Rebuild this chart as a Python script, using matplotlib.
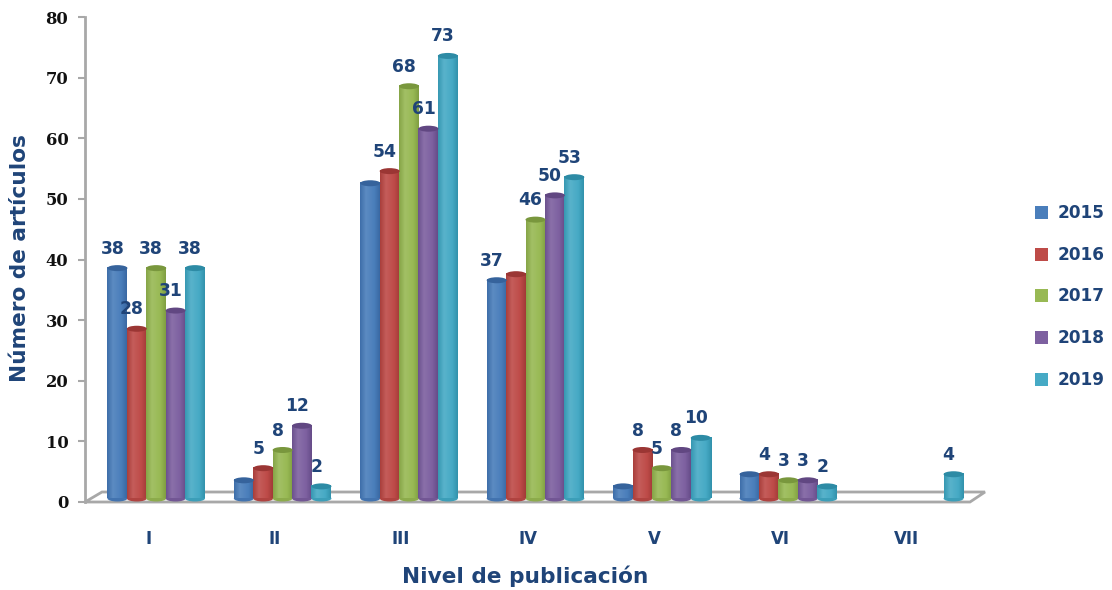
import numpy as np
import matplotlib
matplotlib.use('Agg')
import matplotlib.pyplot as plt
from matplotlib.patches import Ellipse, Polygon, Rectangle
from matplotlib.colors import LinearSegmentedColormap, to_rgb

plt.rcParams['font.family'] = ['DejaVu Sans']

niveles = ['I', 'II', 'III', 'IV', 'V', 'VI', 'VII']
years = ['2015', '2016', '2017', '2018', '2019']

# alturas
v2015 = [38, 3, 52, 36, 2, 4, 0]
v2016 = [28, 5, 54, 37, 8, 4, 0]
v2017 = [38, 8, 68, 46, 5, 3, 0]
v2018 = [31, 12, 61, 50, 8, 3, 0]
v2019 = [38, 2, 73, 53, 10, 2, 4]
series = [v2015, v2016, v2017, v2018, v2019]

# etiquetas que aparecen en la figura (None = sin etiqueta)
l2015 = [38, None, None, 37, None, None, None]
l2016 = [28, 5, 54, None, 8, 4, None]
l2017 = [38, 8, 68, 46, 5, 3, None]
l2018 = [31, 12, 61, 50, 8, 3, None]
l2019 = [38, 2, 73, 53, 10, 2, 4]
labels = [l2015, l2016, l2017, l2018, l2019]

colors = ['#4a7ebb', '#be4b48', '#98b954', '#7d60a0', '#46aac5']
darks = ['#2f5a92', '#8f2f2d', '#6f8c35', '#573f78', '#24819b']
navy = '#1f4478'

W, H = 1112, 590
fig = plt.figure(figsize=(W / 100, H / 100), dpi=100)
ax = fig.add_axes([85 / W, (H - 502) / H, (970 - 85) / W, (502 - 17) / H])
ax.set_xlim(-0.5, 6.5)
ax.set_ylim(0, 80)

px_x = 7 / (970 - 85)  # unidades x por pixel
px_y = 80 / (502 - 17)  # unidades y por pixel

# suelo 3D
floor = Polygon([(-0.5, 0), (6.5, 0), (6.5 + 15 * px_x, 10 * px_y), (-0.5 + 17 * px_x, 10 * px_y)],
                closed=True, fill=False, ec='#a8a8a8', lw=2, clip_on=False, zorder=1)
ax.add_patch(floor)

bar_step = 19.4 * px_x
bar_w = 20 * px_x
base = 3.5 * px_y
ell_h = 6 * px_y
shift = 8 * px_x


def mix(a, b, t):
    a, b = np.array(to_rgb(a)), np.array(to_rgb(b))
    return tuple(a * (1 - t) + b * t)


def draw_cyl(x, val, color, dark):
    light = mix(color, 'white', 0.1)
    cm = LinearSegmentedColormap.from_list(
        'c', [(0, mix(color, dark, 0.45)), (0.3, light), (0.72, color), (1, mix(color, dark, 0.6))])
    grad = np.linspace(0, 1, 64).reshape(1, -1)
    left, right = x - bar_w / 2, x + bar_w / 2
    top = base + val
    ax.imshow(grad, extent=(left, right, base, top), aspect='auto', cmap=cm,
              zorder=3, interpolation='bilinear')
    # tapas del cilindro
    ax.add_patch(Ellipse((x, base), bar_w, ell_h, fc=mix(color, dark, 0.3), ec='none', zorder=2.9, clip_on=False))
    ax.add_patch(Ellipse((x, top), bar_w, ell_h, fc=mix(color, dark, 0.75), ec='none', zorder=3.1))


for s, vals in enumerate(series):
    for i, v in enumerate(vals):
        if v == 0:
            continue
        xc = i + shift + (s - 2) * bar_step
        draw_cyl(xc, v, colors[s], darks[s])
        lab = labels[s][i]
        if lab is not None:
            ax.annotate(str(lab), (xc, base + v), xytext=(-5, 19.5), textcoords='offset pixels',
                        ha='center', va='center', fontsize=12.3, fontweight='bold', color=navy, zorder=5)

ax.set_xlim(-0.5, 6.5)
ax.set_ylim(0, 80)

for sp in ['top', 'right', 'bottom']:
    ax.spines[sp].set_visible(False)
ax.spines['left'].set_color('#a8a8a8')
ax.spines['left'].set_linewidth(2)

ax.set_yticks(np.arange(0, 81, 10))
ax.tick_params(axis='y', length=5, width=1.5, color='#a8a8a8', labelsize=11.8, pad=7)
for t in ax.get_yticklabels():
    t.set_family(['DejaVu Serif'])
    t.set_fontweight('bold')
    t.set_color('#111111')

ax.set_xticks(range(len(niveles)))
ax.set_xticklabels(niveles, fontsize=12, fontweight='bold', color=navy)
ax.tick_params(axis='x', length=0, pad=20)

fig.text(402 / W, 1 - 576 / H, 'Nivel de publicación', fontsize=15.6, fontweight='bold', color=navy,
         ha='left', va='center')
fig.text(20 / W, 1 - 258 / H, 'Número de artículos', fontsize=15.6, fontweight='bold', color=navy,
         rotation=90, ha='center', va='center')

# leyenda
leg_y = [213, 255, 296, 338, 380]
for name, c, y in zip(years, colors, leg_y):
    fig.patches.append(Rectangle((1035 / W, 1 - (y + 6) / H), 13 / W, 13 / H, transform=fig.transFigure,
                                 fc=c, ec='none'))
    fig.text(1058 / W, 1 - y / H, name, fontsize=12.2, fontweight='bold', color=navy, va='center')

fig.savefig('out.png', dpi=100)
